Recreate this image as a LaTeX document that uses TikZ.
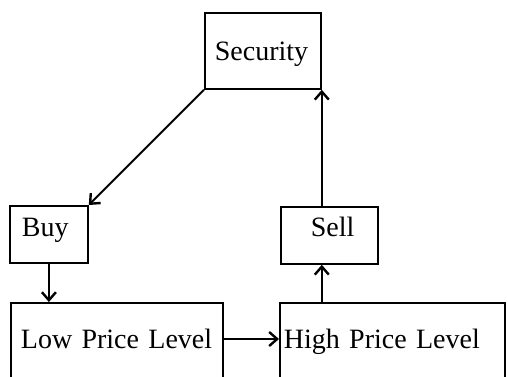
\documentclass[tikz,border=0pt]{standalone}
\usepackage{fontspec}
\setmainfont{Liberation Serif}[WordSpace=1.4]
\usetikzlibrary{arrows.meta}
\begin{document}
\begin{tikzpicture}[x=1pt,y=-1pt, line width=1.8pt,
  blk/.style={draw, inner sep=0pt, anchor=north west,
    align=left, font=\fontsize{28}{30}\selectfont},
  link/.style={draw, line width=2pt,
    -{Straight Barb[length=8pt,width=14pt,line width=2.4pt]}}]
\useasboundingbox (0,0) rectangle (508,376);
\clip (0,0) rectangle (508,376);
\fill[white] (0,0) rectangle (508,376);

% boxes: width, left padding of the text, baseline from the top edge
\node[blk, text width=116pt, text height=48pt, text depth=28pt] (sec) at (204,12)
  {\hspace*{10pt}Security};
\node[blk, text width=78pt, text height=31pt, text depth=26pt] (buy) at (9,205)
  {\hspace*{12pt}Buy};
\node[blk, text width=97pt, text height=30pt, text depth=27pt] (sell) at (280,206)
  {\hspace*{30pt}Sell};
\node[blk, text width=212pt, text height=46pt, text depth=60pt] (low) at (10,302)
  {\hspace*{10pt}Low Price Level};
\node[blk, text width=225pt, text height=46pt, text depth=60pt] (high) at (279,302)
  {\hspace*{4pt}High Price Level};

% connectors
\path[link] (sec.south west) -- (buy.north east);
\path[link] (buy.south) -- (buy.south |- low.north);
\path[link] ([yshift=-37pt]low.north east) -- ([yshift=-37pt]high.north west);
\path[link] (sec.south east |- high.north) -- (sec.south east |- sell.south);
\path[link] (sec.south east |- sell.north) -- (sec.south east);
\end{tikzpicture}
\end{document}
